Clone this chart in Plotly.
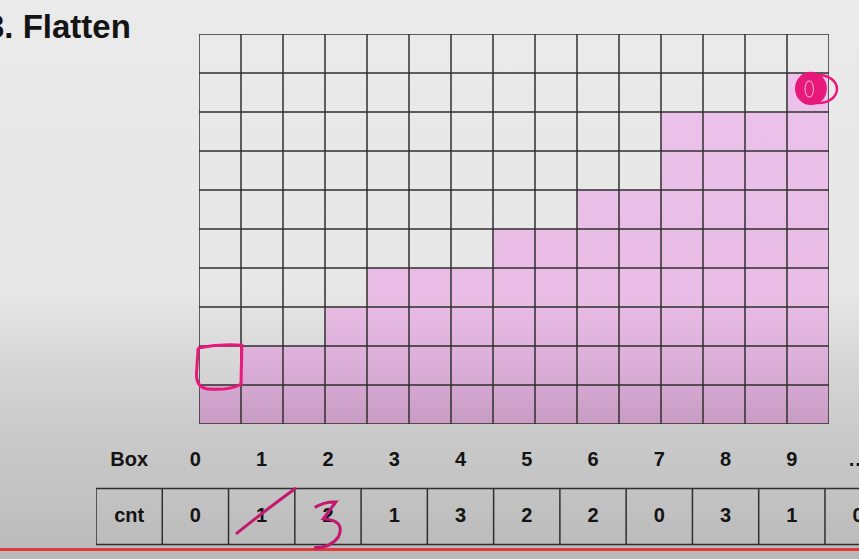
import plotly.graph_objects as go

W, H = 859, 559

# ---------------- data ----------------
title_text = "3. Flatten"
column_heights = [1, 2, 2, 3, 4, 4, 4, 5, 5, 6, 6, 8, 8, 8, 9]
n_rows = 10
row_headers = ["Box", "cnt"]
box_labels = ["0", "1", "2", "3", "4", "5", "6", "7", "8", "9", "…"]
cnt_values = [0, 1, 2, 1, 3, 2, 2, 0, 3, 1, 0]

# ---------------- layout helpers (pixels -> paper) ----------------
def px_x(p):
    return p / W


def px_y(p):
    return (H - p) / H


GRID_L, GRID_R, GRID_T, GRID_B = 199, 829, 34, 424
TAB_L = 96.0
CELL_W = 66.27
CNT_Y = 516.5
ROW_H = 56.0
TAB_TOP_PX = 430

n_cols = len(column_heights)
COL_W = (GRID_R - GRID_L) / n_cols
ROW_PX = (GRID_B - GRID_T) / n_rows


def g2p(x, y):
    """grid data coords -> paper coords (for unclipped hand-drawn marks)"""
    return px_x(GRID_L + (x + 0.5) * COL_W), px_y(GRID_B - y * ROW_PX)


TEXT = "#141414"
LINE = "#2f2f2f"
PEN = "#E8197A"
PEN_DARK = "#C2186F"

fig = go.Figure()

# background vignette (darker toward the bottom)
fig.add_trace(go.Scatter(
    x=[0, 1, 1, 0, 0], y=[0, 0, 1, 1, 0], mode="lines", fill="toself",
    line=dict(width=0),
    fillgradient=dict(type="vertical", start=0, stop=1,
                      colorscale=[[0, "#B8B8B8"], [0.018, "#BBBBBB"], [0.105, "#C2C2C2"],
                                  [0.213, "#C9C9C9"], [0.32, "#D3D3D3"], [0.43, "#E0E0E0"],
                                  [0.48, "#E6E7E6"], [1, "#EAEAEA"]]),
    xaxis="x", yaxis="y", hoverinfo="skip", showlegend=False))

# staircase of filled cells
xs = [i - 0.5 for i in range(n_cols + 1)]
ys = column_heights + [column_heights[-1]]
fig.add_trace(go.Scatter(
    x=xs, y=ys, mode="lines", line=dict(width=0, shape="hv"), fill="tozeroy",
    fillgradient=dict(type="vertical", start=0, stop=n_rows,
                      colorscale=[[0, "#C99CC4"], [0.1, "#D4A8D0"], [0.2, "#DFB3DC"],
                                  [0.32, "#E8BCE5"], [1, "#EDC3EB"]]),
    xaxis="x2", yaxis="y2", hoverinfo="skip", showlegend=False))

# table text
fig.add_trace(go.Scatter(
    x=[-1] + list(range(len(box_labels))), y=[1] * (len(box_labels) + 1),
    text=[row_headers[0]] + box_labels, mode="text", cliponaxis=False,
    textfont=dict(family="Liberation Sans", size=20, color=TEXT, weight="bold"),
    xaxis="x3", yaxis="y3", hoverinfo="skip", showlegend=False))
fig.add_trace(go.Scatter(
    x=[-1] + list(range(len(cnt_values))), y=[0] * (len(cnt_values) + 1),
    text=[row_headers[1]] + [str(v) for v in cnt_values], mode="text", cliponaxis=False,
    textfont=dict(family="Liberation Sans", size=20, color=TEXT, weight="bold"),
    xaxis="x3", yaxis="y3", hoverinfo="skip", showlegend=False))

shapes = []
# grid lines
for i in range(n_cols + 1):
    shapes.append(dict(type="line", xref="x2", yref="y2", x0=i - 0.5, x1=i - 0.5,
                       y0=0, y1=n_rows, line=dict(color=LINE, width=1.5), layer="above"))
for j in range(n_rows + 1):
    shapes.append(dict(type="line", xref="x2", yref="y2", x0=-0.5, x1=n_cols - 0.5,
                       y0=j, y1=j, line=dict(color=LINE, width=1.5), layer="above"))
# table lines
n_cells = len(cnt_values)
for yv in (-0.5, 0.5):
    shapes.append(dict(type="line", xref="x3", yref="y3", x0=-1.5, x1=n_cells + 0.5,
                       y0=yv, y1=yv, line=dict(color=LINE, width=1.5)))
for k in range(-2, n_cells):
    shapes.append(dict(type="line", xref="x3", yref="y3", x0=k + 0.5, x1=k + 0.5,
                       y0=-0.5, y1=0.5, line=dict(color=LINE, width=1.5)))
# red rule at the bottom
shapes.append(dict(type="line", xref="paper", yref="paper", x0=0, x1=1,
                   y0=px_y(549.5), y1=px_y(549.5), line=dict(color="#E0393B", width=3)))


# hand-drawn marks (paper coords so they are not clipped to the grid)
def ppath(points_cmds):
    out = []
    for cmd, pts in points_cmds:
        coords = " ".join("%.5f,%.5f" % g2p(x, y) for x, y in pts)
        out.append(f"{cmd} {coords}")
    return " ".join(out)


shapes.append(dict(type="path", xref="paper", yref="paper",
                   path=ppath([("M", [(-0.52, 1.95)]), ("Q", [(0.0, 2.06), (0.52, 2.02)]),
                               ("L", [(0.5, 1.02)]), ("Q", [(0.2, 0.85), (-0.3, 0.9)]),
                               ("Q", [(-0.57, 0.93), (-0.56, 1.3)]), ("L", [(-0.52, 1.95)])]),
                   line=dict(color=PEN, width=3)))


def pcircle(x0, x1, y0, y1, **kw):
    a = g2p(x0, y0)
    b = g2p(x1, y1)
    return dict(type="circle", xref="paper", yref="paper", x0=a[0], x1=b[0],
                y0=a[1], y1=b[1], **kw)


shapes.append(pcircle(13.69, 14.45, 8.18, 9.03, fillcolor=PEN, line=dict(width=0)))
shapes.append(pcircle(13.81, 14.69, 8.23, 8.95, line=dict(color=PEN, width=2.5)))
shapes.append(pcircle(13.93, 14.13, 8.38, 8.8, line=dict(color="#F39AC2", width=1.2)))

# slash over the "1"
shapes.append(dict(type="path", xref="x3", yref="y3",
                   path="M 0.612,-0.31 Q 1.1,0.15 1.518,0.51",
                   line=dict(color=PEN_DARK, width=3)))
# handwritten "3" over the "2"
cx = 2.0
shapes.append(dict(type="path", xref="x3", yref="y3",
                   path=(f"M {cx-0.2},0.16 Q {cx-0.05},0.27 {cx+0.12},0.26 "
                         f"L {cx-0.07},-0.04 Q {cx+0.27},-0.07 {cx+0.16},-0.36 "
                         f"Q {cx+0.05},-0.56 {cx-0.21},-0.56"),
                   line=dict(color=PEN_DARK, width=3)))

fig.update_layout(
    width=W, height=H, margin=dict(l=0, r=0, t=0, b=0),
    paper_bgcolor="#EAEAEA", plot_bgcolor="rgba(0,0,0,0)", showlegend=False,
    xaxis=dict(domain=[0, 1], range=[0, 1], visible=False, fixedrange=True),
    yaxis=dict(domain=[0, 1], range=[0, 1], visible=False, fixedrange=True),
    xaxis2=dict(domain=[px_x(GRID_L), px_x(GRID_R)], range=[-0.5, n_cols - 0.5],
                visible=False, anchor="y2"),
    yaxis2=dict(domain=[px_y(GRID_B), px_y(GRID_T)], range=[0, n_rows],
                visible=False, anchor="x2"),
    xaxis3=dict(domain=[px_x(TAB_L), 1], range=[-1.5, -1.5 + (W - TAB_L) / CELL_W],
                visible=False, anchor="y3"),
    yaxis3=dict(domain=[0, px_y(TAB_TOP_PX)],
                range=[-(H - CNT_Y) / ROW_H, (CNT_Y - TAB_TOP_PX) / ROW_H],
                visible=False, anchor="x3"),
    shapes=shapes,
    annotations=[dict(text=f"<b>{title_text}</b>", xref="paper", yref="paper",
                      x=px_x(133), y=px_y(26.5), xanchor="right", yanchor="middle",
                      showarrow=False,
                      font=dict(family="Liberation Sans", size=33, color=TEXT))],
)

fig.write_html("out.html", config={"displayModeBar": False},
               post_script="document.body.style.margin='0';")
